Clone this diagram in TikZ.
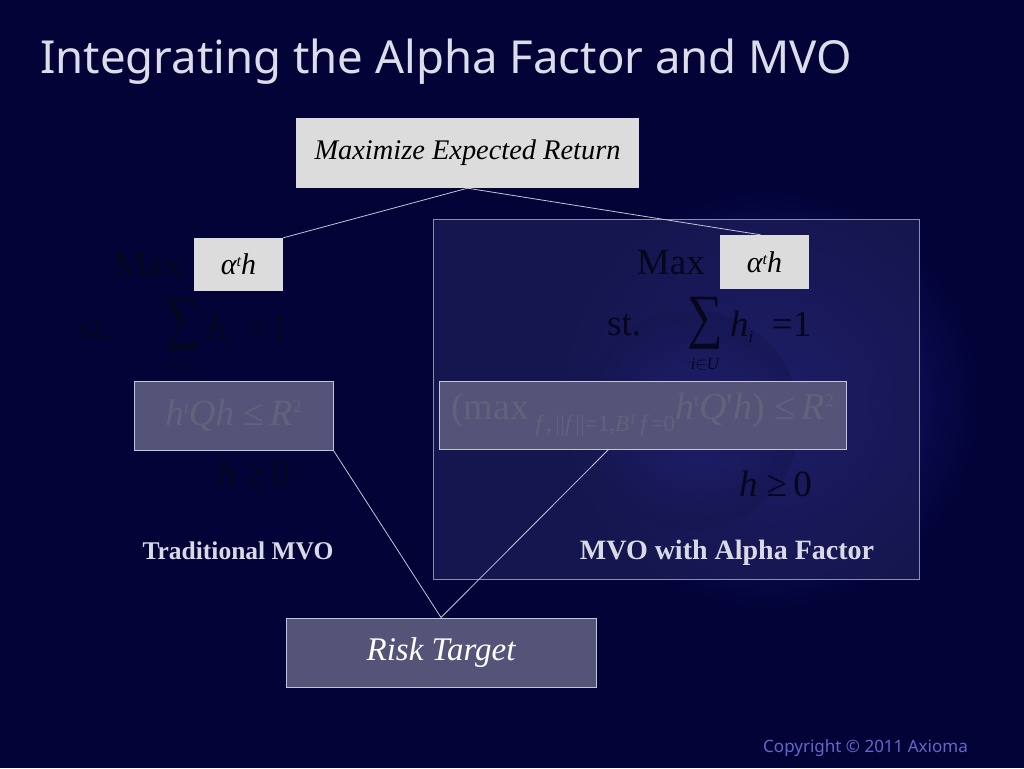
\documentclass[tikz,border=0pt]{standalone}
\usepackage{fontspec}
\usepackage{graphicx}
\setmainfont{Liberation Serif}
\newfontfamily\titlefont{Noto Sans}
\usetikzlibrary{calc}
\definecolor{bg}{HTML}{030338}
\definecolor{glow}{HTML}{2A2AB0}
\definecolor{boxgray}{HTML}{DCDCDC}
\definecolor{riskfill}{HTML}{545478}
\definecolor{riskline}{HTML}{C4C4D6}
\definecolor{dimtext}{HTML}{62627A}
\definecolor{eqtext}{HTML}{06061C}
\definecolor{panelfill}{HTML}{1E1E5A}
\definecolor{panelline}{HTML}{8C8CB0}
\definecolor{titlecol}{HTML}{DCDCEA}
\definecolor{copycol}{HTML}{6666C8}
\definecolor{labcol}{HTML}{DADAE6}
\newcommand\fsz[1]{\fontsize{#1}{#1}\selectfont}
\newcommand\upx[2]{\raisebox{#1}{\fsz{18}#2}}
\newcommand\bigsum{\scalebox{1}[1.2]{\fsz{50}∑}}
\newcommand\dbar{\textbar\kern0.5pt\textbar}
\tikzset{
  graybox/.style={draw=none, fill=boxgray, inner sep=0pt, text=black},
  riskbox/.style={draw=riskline, line width=1pt, fill=riskfill, inner sep=0pt},
  conn/.style={draw=riskline, line width=0.8pt},
  eq/.style={text=eqtext, inner sep=0pt, font=\fsz{37}},
  lab/.style={text=labcol, inner sep=0pt},
}
\begin{document}
\begin{tikzpicture}[x=1pt,y=-1pt]
\fill[bg] (0,0) rectangle (1024,768);
\useasboundingbox (0,0) rectangle (1024,768);
% background glow
\begin{scope}
\clip (0,0) rectangle (1024,768);
\shade[inner color=glow!65!bg, outer color=bg] (770,400) circle (210);
\shade[inner color=glow, outer color=bg, opacity=0.6] (690,420) circle (110);
\end{scope}
% title
\node[anchor=base west, inner sep=0pt, text=titlecol, font=\titlefont\fsz{45.5}] (title) at (40,73) {Integrating the Alpha Factor and MVO};
\node[anchor=base east, inner sep=0pt, text=copycol, font=\titlefont\fsz{17}] (copy) at (968,752) {Copyright © 2011 Axioma};
% right panel
\node[draw=panelline, line width=0.8pt, fill=panelfill, fill opacity=0.7, minimum width=486pt, minimum height=360pt, inner sep=0pt] (panel) at (676,399) {};
% top box
\node[graybox, minimum width=343pt, minimum height=70pt, font=\fsz{28.4}\itshape] (top) at (467.5,153) {Maximize Expected Return};
% alpha boxes
\node[graybox, minimum width=89pt, minimum height=53pt, font=\fsz{30}\itshape] (la) at (238.5,264.5) {α\raisebox{8pt}{\fsz{16}t}h};
\node[graybox, minimum width=89pt, minimum height=54pt, font=\fsz{30}\itshape] (ra) at (764.5,262) {α\raisebox{8pt}{\fsz{16}t}h};
% risk boxes
\node[riskbox, minimum width=199pt, minimum height=69pt, text=dimtext, font=\fsz{37}] (lr) at (233.5,415.5) {\itshape h\upx{12pt}{t}Qh \upshape≤\,\itshape R\upx{13pt}{\upshape 2}};
\node[riskbox, minimum width=407pt, minimum height=68pt, text=dimtext, font=\fsz{38}] (rr) at (642.5,415) {(max\,\raisebox{-12pt}{\fsz{23}\itshape f\upshape\,,\,\dbar\itshape f\upshape\,\dbar=1,\itshape B\raisebox{8pt}{\fsz{13}T}\,f\upshape\,=0}\itshape h\upx{13pt}{\upshape t}Q\upshape\textquotesingle\itshape h\upshape) ≤\,\itshape R\upx{13pt}{\upshape 2}};
% risk target
\node[riskbox, minimum width=310pt, minimum height=69pt, text=white, font=\fsz{33}\itshape] (risk) at (441,652.5) {Risk Target};
% left equations
\node[eq, anchor=east] (lmax) at (182,265) {Max};
\node[eq, anchor=west] (lst) at (78,330) {st.};
\node[eq] (lsum) at (182,324) {\bigsum};
\node[eq, anchor=north, font=\fsz{17}\itshape] (lsub) at (182,359) {i$\in$U};
\node[eq, anchor=base west] (lhi) at (207,340) {\itshape h\raisebox{-6pt}{\fsz{17}i}\upshape\ \ =1};
\node[eq, anchor=west] (lpos) at (217,473) {\itshape h \upshape≥\,0};
% right equations
\node[eq, anchor=east] (rmax) at (705,263) {Max};
\node[eq, anchor=west] (rst) at (607,325) {st.};
\node[eq] (rsum) at (705,323) {\bigsum};
\node[eq, anchor=north, font=\fsz{17}\itshape] (rsub) at (705,358) {i$\in$U};
\node[eq, anchor=base west] (rhi) at (730,336) {\itshape h\raisebox{-6pt}{\fsz{17}i}\upshape\ \ =1};
\node[eq, anchor=west] (rpos) at (739,484) {\itshape h \upshape≥\,0};
% labels
\node[lab, font=\fsz{25.5}\bfseries] (ltrad) at (238,551) {Traditional MVO};
\node[lab, font=\fsz{28}\bfseries] (lalpha) at (727,553) {MVO with Alpha Factor};
% connectors
\draw[conn] (top.south) -- (la.north east);
\draw[conn] (top.south) -- ($(ra.north)+(-4,0)$);
\draw[conn] (lr.south east) -- (risk.north);
\draw[conn] ($(rr.south west)+(170,0)$) -- (risk.north);
\end{tikzpicture}
\end{document}
